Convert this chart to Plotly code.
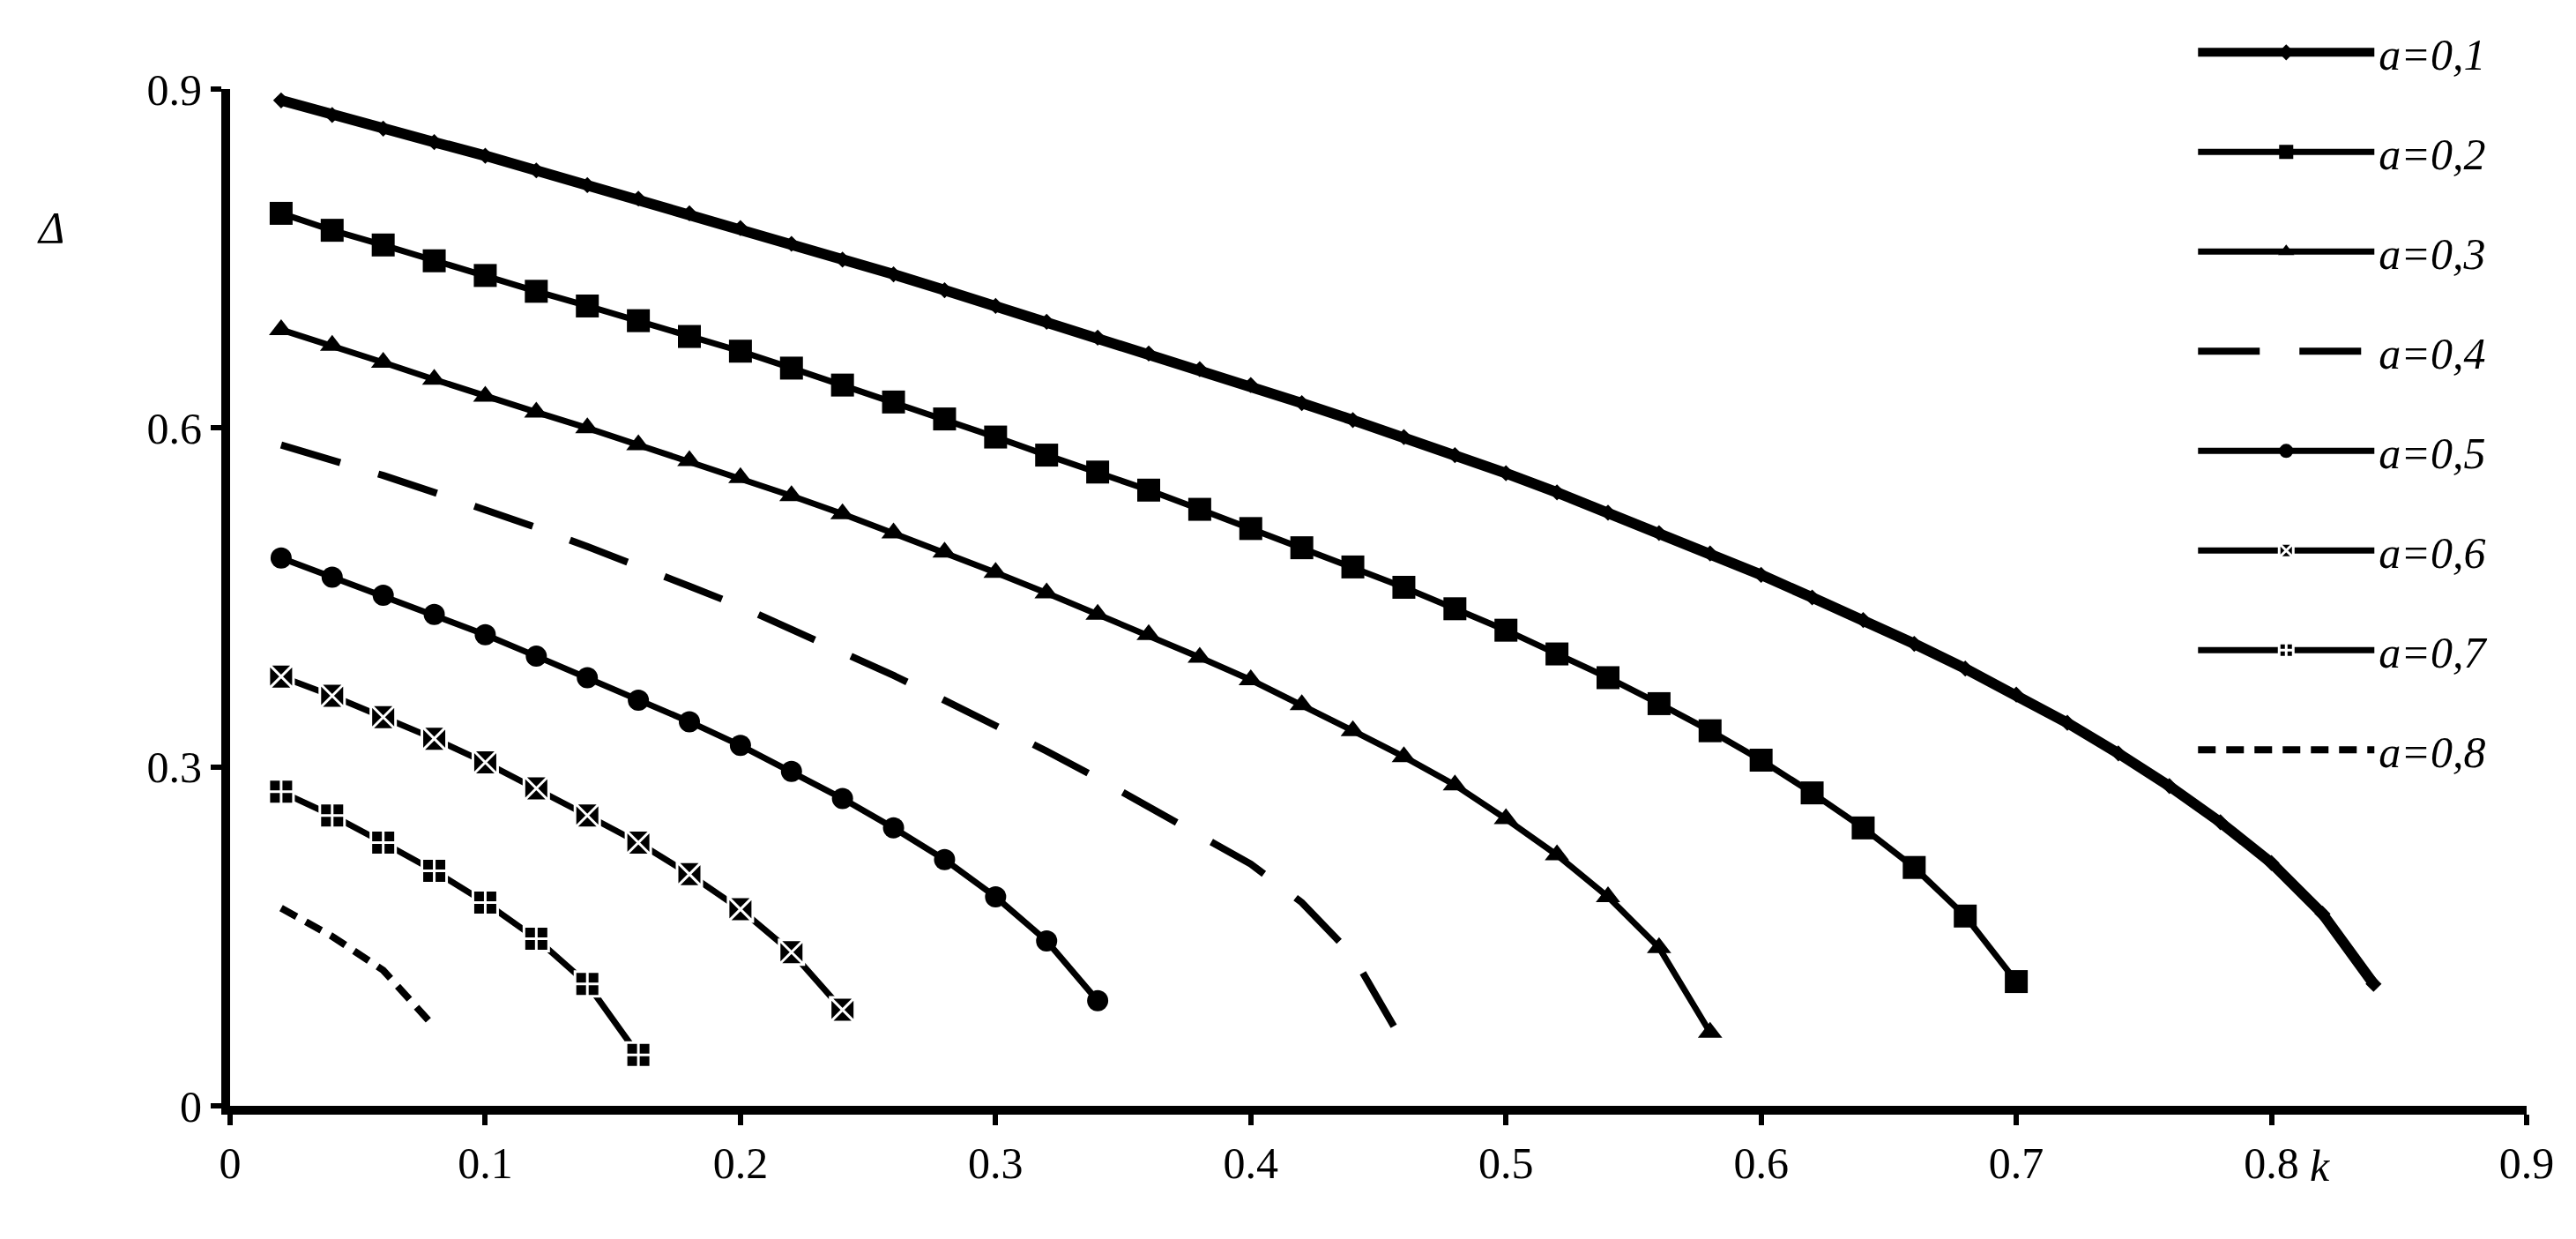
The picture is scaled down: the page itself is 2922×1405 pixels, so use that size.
import plotly.graph_objects as go

labels = ["a=0,1","a=0,2","a=0,3","a=0,4","a=0,5","a=0,6","a=0,7","a=0,8"]
d01 = [.89,.877,.865,.853,.841,.828,.815,.803,.790,.777,.763,.749,.736,.722,.708,.694,.680,.666,.652,.638,.622,.607,.592,.576,.560,.543,.525,.507,.489,.470,.450,.430,.409,.387,.364,.339,.312,.283,.251,.215,.170,.108]
d02 = [.79,.775,.762,.748,.735,.721,.708,.695,.681,.668,.653,.638,.623,.608,.592,.576,.561,.545,.528,.511,.494,.477,.459,.440,.421,.400,.379,.356,.332,.306,.277,.246,.211,.168,.110]
d03 = [.687,.673,.658,.643,.628,.614,.600,.585,.571,.556,.540,.524,.507,.490,.472,.454,.435,.417,.397,.377,.355,.332,.309,.284,.254,.222,.185,.140,.065]
d04 = [.585,.572,.558,.543,.528,.512,.495,.478,.460,.442,.422,.402,.381,.359,.337,.314,.290,.265,.240,.214,.180,.133,.055]
d05 = [.485,.468,.452,.435,.417,.398,.379,.359,.340,.319,.296,.272,.246,.218,.185,.146,.093]
d06 = [.38,.363,.344,.325,.304,.281,.257,.233,.205,.174,.136,.085]
d07 = [.278,.257,.233,.208,.18,.148,.108,.045]
d08 = [.175,.15,.12,.07]
series = [d01,d02,d03,d04,d05,d06,d07,d08]

def kvals(n):
    return [round(0.02*(i+1), 2) for i in range(n)]

styles = [
    dict(width=12, dash="solid", symbol="diamond", size=14, mode="lines+markers"),
    dict(width=7, dash="solid", symbol="square", size=26, mode="lines+markers"),
    dict(width=7, dash="solid", symbol="triangle-up", size=24, mode="lines+markers"),
    dict(width=8, dash="70px,45px", symbol="circle", size=1, mode="lines"),
    dict(width=7, dash="solid", symbol="circle", size=24, mode="lines+markers"),
    dict(width=7, dash="solid", symbol="square-x", size=28, mode="lines+markers"),
    dict(width=7, dash="solid", symbol="square-cross", size=28, mode="lines+markers"),
    dict(width=8, dash="20px,12px", symbol="circle", size=1, mode="lines"),
]

fig = go.Figure()
for i, (lab, d, s) in enumerate(zip(labels, series, styles)):
    mk = dict(symbol=s["symbol"], size=s["size"], color="black")
    if "x" in s["symbol"] or "cross" in s["symbol"]:
        mk["line"] = dict(color="white", width=3)
    fig.add_trace(go.Scatter(x=kvals(len(d)), y=d, name="<i>" + lab + "</i>", mode=s["mode"],
                             legendgroup=lab,
                             line=dict(color="black", width=s["width"], dash=s["dash"]),
                             marker=mk))

fig.update_layout(
    width=2922, height=1405, plot_bgcolor="white", paper_bgcolor="white",
    margin=dict(l=253, r=64, t=84, b=159),
    font=dict(family="Liberation Serif", size=50, color="black"),
    legend=dict(x=0.855, y=1.07, xanchor="left", yanchor="top", tracegroupgap=45,
                itemwidth=200, maxheight=1300, font=dict(size=50, family="Liberation Serif"),
                bgcolor="rgba(0,0,0,0)"),
    xaxis=dict(range=[0, 0.9], tickvals=[0,0.1,0.2,0.3,0.4,0.5,0.6,0.7,0.8,0.9],
               ticktext=["0","0.1","0.2","0.3","0.4","0.5","0.6","0.7","0.8","0.9"],
               showgrid=False, zeroline=False, showline=True, linecolor="black", linewidth=10,
               ticks="outside", ticklen=12, tickwidth=6, tickcolor="black"),
    yaxis=dict(range=[0, 0.9], tickvals=[0,0.3,0.6,0.9], ticktext=["0","0.3","0.6","0.9"],
               showgrid=False, zeroline=False, showline=True, linecolor="black", linewidth=10,
               ticks="outside", ticklen=12, tickwidth=6, tickcolor="black"),
    annotations=[
        dict(text="<i>Δ</i>", xref="paper", yref="paper", x=-0.085, y=0.89, showarrow=False,
             font=dict(size=50, family="Liberation Serif")),
        dict(text="<i>k</i>", xref="paper", yref="paper", x=0.915, y=-0.085, showarrow=False,
             font=dict(size=50, family="Liberation Serif")),
    ],
)
fig.write_html("out.html")
